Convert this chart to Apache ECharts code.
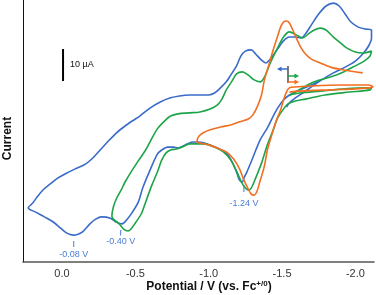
<!DOCTYPE html>
<html><head><meta charset="utf-8">
<script src="https://cdn.jsdelivr.net/npm/echarts@6/dist/echarts.min.js"></script>
<style>html,body{margin:0;padding:0;background:#fff}#c{width:376px;height:295px}</style>
</head><body><div id="c"></div>
<script>
// Potential (V vs Fc+/0) and current (µA, arbitrary offset)
const blueV = [-1.77,-1.70,-1.62,-1.55,-1.51,-1.47,-1.44,-1.40,-1.35,-1.30,-1.26,-1.24,-1.23,-1.21,-1.19,-1.16,-1.12,-1.06,-0.97,-0.92,-0.89,-0.84,-0.79,-0.76,-0.72,-0.68,-0.65,-0.60,-0.55,-0.52,-0.48,-0.44,-0.41,-0.37,-0.33,-0.27,-0.23,-0.19,-0.14,-0.11,-0.075,-0.03,0.01,0.06,0.12,0.18,0.23,0.20,0.17,0.13,0.08,0.03,-0.02,-0.09,-0.16,-0.21,-0.26,-0.31,-0.37,-0.43,-0.48,-0.53,-0.60,-0.67,-0.74,-0.80,-0.87,-0.94,-1.00,-1.04,-1.08,-1.12,-1.15,-1.19,-1.22,-1.25,-1.29,-1.32,-1.36,-1.39,-1.42,-1.47,-1.51,-1.55,-1.59,-1.63,-1.66,-1.70,-1.75,-1.80,-1.85,-1.89,-1.93,-1.97,-2.02,-2.07,-2.11,-2.11,-2.09,-2.05,-2.00,-1.93,-1.85,-1.77,-1.70,-1.64,-1.58,-1.55,-1.53];
const blueI = [21.9,20.3,18.8,17.2,15.6,13.1,10.6,6.9,3.1,-2.5,-6.9,-8.8,-10.0,-9.4,-6.9,-3.8,-0.9,0.6,2.2,2.5,2.5,1.6,0.6,0.9,0.9,0,-1.3,-6.3,-11.9,-16.3,-19.4,-21.9,-23.1,-22.5,-21.3,-20.9,-21.6,-23.1,-25.6,-26.3,-26.6,-25.9,-24.4,-22.5,-20.9,-19.4,-18.1,-16.6,-14.7,-12.5,-10.6,-8.8,-7.5,-5.9,-4.4,-2.5,0,2.5,5.3,7.5,9.1,10.6,13.1,15.0,16.3,16.9,17.2,17.2,17.2,17.8,19.4,21.3,23.4,26.3,29.4,30.9,31.3,30.0,28.1,27.2,28.4,31.6,34.1,35.3,35.3,35.0,36.3,39.1,42.5,45.0,45.9,45.0,42.5,40.0,38.4,37.8,37.5,35.0,32.5,30.0,27.8,25.9,24.1,21.9,19.7,17.8,15.9,14.7,13.4];

const greenV = [-1.55,-1.62,-1.76,-1.93,-2.07,-2.11,-2.10,-1.96,-1.79,-1.66,-1.59,-1.54,-1.51,-1.47,-1.44,-1.40,-1.36,-1.32,-1.29,-1.27,-1.25,-1.22,-1.19,-1.15,-1.10,-1.04,-0.97,-0.92,-0.87,-0.82,-0.78,-0.74,-0.71,-0.68,-0.65,-0.61,-0.57,-0.54,-0.50,-0.47,-0.45,-0.42,-0.39,-0.35,-0.34,-0.35,-0.37,-0.40,-0.43,-0.47,-0.52,-0.57,-0.61,-0.65,-0.70,-0.74,-0.79,-0.87,-0.94,-1.01,-1.06,-1.09,-1.12,-1.16,-1.19,-1.23,-1.27,-1.31,-1.35,-1.38,-1.42,-1.47,-1.51,-1.55,-1.60,-1.64,-1.68,-1.72,-1.76,-1.80,-1.85,-1.90,-1.94,-2.00,-2.05,-2.11,-2.10,-2.06,-2.00,-1.92,-1.83,-1.72,-1.64,-1.58,-1.55];
const greenI = [17.2,17.8,18.4,19.1,19.4,19.4,18.8,18.1,17.2,15.9,15.3,14.4,12.8,10.0,6.3,1.6,-4.1,-8.8,-11.9,-12.5,-11.9,-9.7,-6.6,-3.1,-0.6,0.9,1.9,1.9,1.9,0.9,0.3,0,-0.9,-3.1,-6.9,-11.3,-16.3,-20.0,-22.8,-24.7,-25.3,-24.7,-23.1,-21.6,-20.6,-17.8,-15.3,-12.8,-10.0,-6.9,-3.4,0,3.4,6.6,9.1,10.6,11.3,11.6,11.9,12.8,14.1,15.9,18.8,21.6,23.8,24.4,23.4,21.9,21.3,22.8,27.2,31.9,35.3,36.9,35.9,35.0,36.3,37.5,38.1,37.5,35.3,33.4,31.9,30.6,30.3,30.9,29.4,27.8,26.3,24.4,22.8,21.3,19.4,17.8,16.9];

const orangeV = [-1.55,-1.62,-1.83,-2.00,-2.09,-2.12,-2.09,-1.90,-1.69,-1.59,-1.55,-1.53,-1.51,-1.49,-1.46,-1.43,-1.40,-1.38,-1.35,-1.33,-1.31,-1.29,-1.27,-1.24,-1.21,-1.17,-1.12,-1.06,-1.00,-0.94,-0.92,-0.93,-0.96,-1.01,-1.08,-1.15,-1.21,-1.27,-1.30,-1.33,-1.36,-1.38,-1.41,-1.44,-1.47,-1.49,-1.51,-1.53,-1.55,-1.57,-1.60,-1.63,-1.66,-1.70,-1.76,-1.83,-1.92,-2.05];
const orangeI = [18.1,18.4,18.8,19.1,19.4,19.7,20.3,20.3,20.0,19.7,19.4,18.1,15.6,12.5,9.1,4.7,0,-5.0,-9.7,-12.8,-14.1,-13.8,-12.2,-9.4,-5.9,-2.8,-0.6,0.6,1.6,2.2,2.5,4.1,5.3,6.3,7.2,7.8,8.8,9.7,10.9,13.4,17.2,21.9,26.6,31.3,35.6,38.4,40.0,40.3,39.7,37.8,34.7,31.9,30.0,28.4,27.2,25.9,25.0,24.1];

const tickValues = [0, -0.5, -1.0, -1.5, -2.0];
const tickLabels = ['0.0', '-0.5', '-1.0', '-1.5', '-2.0'];
const peakV = [-0.08, -0.40, -1.24];
const peakLabels = ['-0.08 V', '-0.40 V', '-1.24 V'];
const scaleBarI = [21.56, 31.56]; // 10 µA
const scaleBarV = -0.007;

const COL = {blue:'#3b6bc9', green:'#1ea448', orange:'#f26f21', label:'#4a7bd4'};
const FONT = '"Liberation Sans", Arial, Helvetica, sans-serif';
const zip = (a, b) => a.map((v, i) => [v, b[i]]);

const chart = echarts.init(document.getElementById('c'), null, {renderer:'canvas'});
function mkSeries(name, V, I, color) {
  return {name, type:'line', data: zip(V, I), showSymbol:false, smooth:0.3,
    lineStyle:{color, width:1.6}, itemStyle:{color}, z:2};
}
chart.setOption({
  animation:false,
  grid:{left:23, right:2, top:0, bottom:33},
  xAxis:{type:'value', inverse:true, min:-2.127, max:0.266,
    axisLine:{onZero:false, lineStyle:{color:'#555', width:1.5}},
    axisTick:{show:false}, splitLine:{show:false},
    axisLabel:{customValues:tickValues, formatter:(v)=>{const k=tickValues.findIndex(t=>Math.abs(t-v)<1e-9);return k>=0?tickLabels[k]:'';},
      margin:6, fontSize:11, color:'#333', fontFamily:FONT}},
  yAxis:{type:'value', min:-35, max:46.875,
    axisLine:{show:true, onZero:false, lineStyle:{color:'#111', width:1}},
    axisTick:{show:false}, axisLabel:{show:false}, splitLine:{show:false}},
  series:[mkSeries('blue', blueV, blueI, COL.blue), mkSeries('green', greenV, greenI, COL.green), mkSeries('orange', orangeV, orangeI, COL.orange)]
});

const px = (v, i) => chart.convertToPixel({gridIndex:0}, [v, i]);
const g = [];
// scale bar
const sb0 = px(scaleBarV, scaleBarI[0]), sb1 = px(scaleBarV, scaleBarI[1]);
g.push({type:'line', shape:{x1:sb0[0], y1:sb0[1], x2:sb1[0], y2:sb1[1]}, style:{stroke:'#000', lineWidth:2}});
g.push({type:'text', x:sb0[0]+7, y:(sb0[1]+sb1[1])/2, style:{text:'10 µA', font:'9px '+FONT, fill:'#111', verticalAlign:'middle', align:'left'}});
// peak annotations
const tickY = [[241,247],[230,235.5],[185,192]];
const labY = [254.5,241.8,203.5];
peakV.forEach((v, k) => {
  const x = px(v, 0)[0];
  g.push({type:'line', shape:{x1:x, y1:tickY[k][0], x2:x, y2:tickY[k][1]}, style:{stroke:COL.label, lineWidth:1}});
  g.push({type:'text', x:x, y:labY[k], style:{text:peakLabels[k], font:'9px '+FONT, fill:COL.label, align:'center', verticalAlign:'middle'}});
});
// scan direction marker
g.push({type:'line', shape:{x1:288, y1:66, x2:288, y2:83}, style:{stroke:'#222', lineWidth:1.2}});
function arrow(y, dir, color) {
  const x0 = 288, x1 = 288 + dir*11;
  g.push({type:'line', shape:{x1:x0, y1:y, x2:x1 - dir*3, y2:y}, style:{stroke:color, lineWidth:1.5}});
  g.push({type:'polygon', shape:{points:[[x1, y],[x1 - dir*4.5, y-2.6],[x1 - dir*4.5, y+2.6]]}, style:{fill:color}});
}
arrow(69, -1, COL.blue);
arrow(76, 1, COL.green);
arrow(82, 1, COL.orange);
// axis titles
g.push({type:'text', x:7.5, y:138.5, rotation:Math.PI/2, style:{text:'Current', font:'bold 12px '+FONT, fill:'#111', align:'center', verticalAlign:'middle'}});
g.push({type:'text', x:209, y:287, style:{text:'{b|Potential / V (vs. Fc}{s|+/0}{b|)}', align:'center', verticalAlign:'middle',
  rich:{b:{font:'bold 12px '+FONT, fill:'#111', fontSize:12, fontWeight:'bold', fontFamily:FONT, color:'#111'},
        s:{fontSize:8, fontWeight:'bold', fontFamily:FONT, color:'#111', fill:'#111', padding:[0,0,6,0]}}}});
chart.setOption({graphic:{elements:g}});
</script></body></html>
